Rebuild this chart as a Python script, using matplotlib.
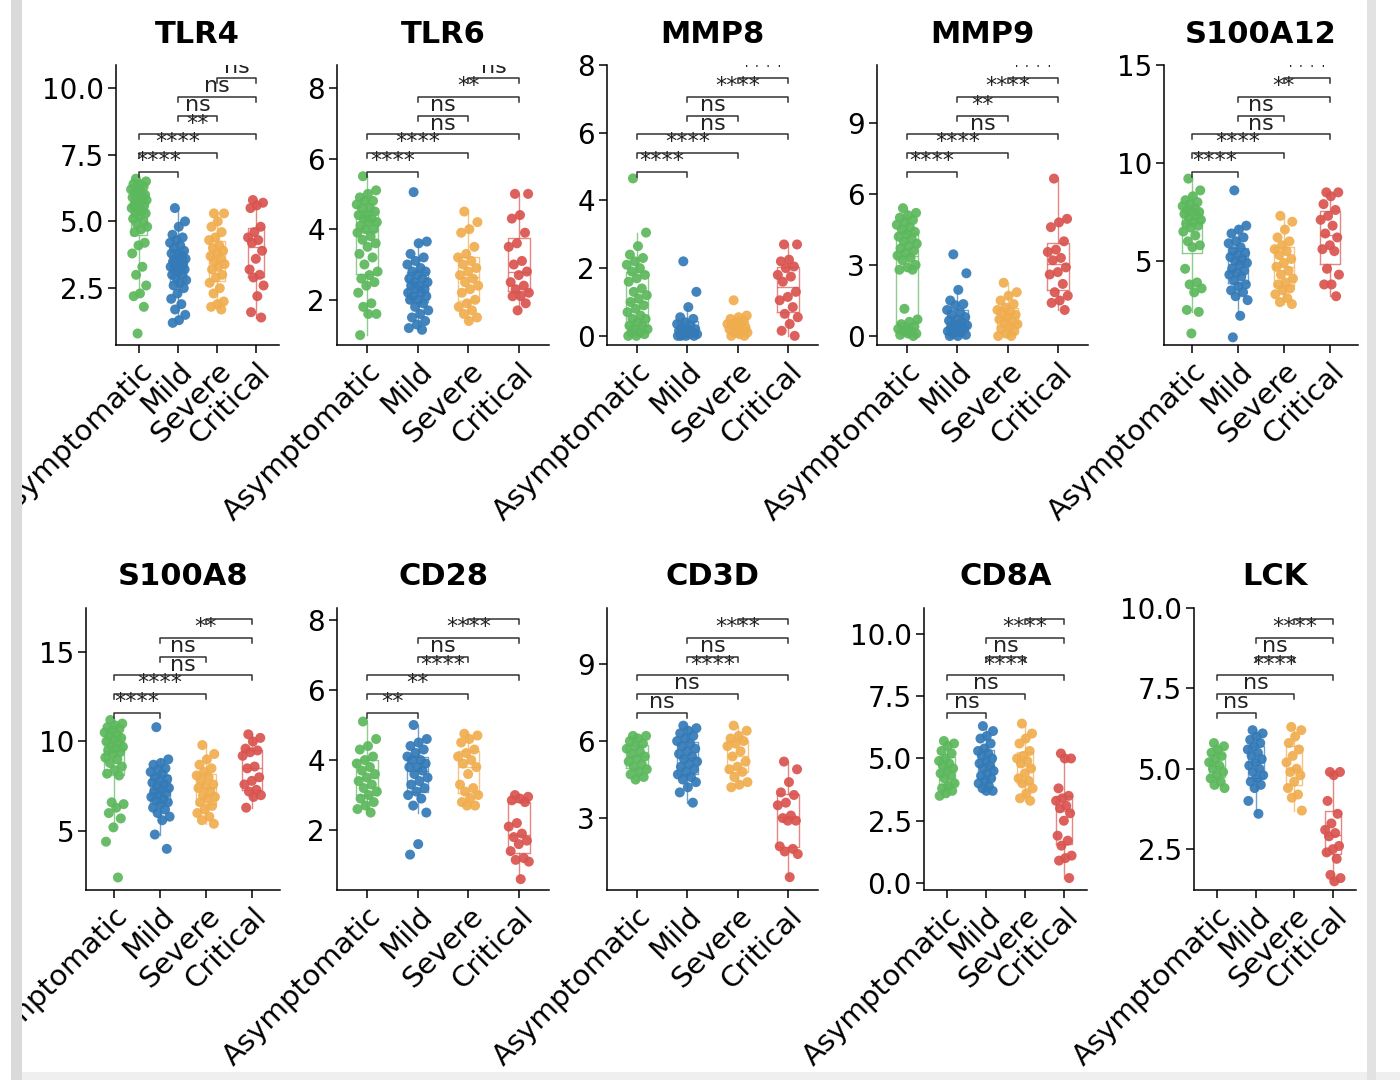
import numpy as np
import matplotlib.pyplot as plt
from matplotlib.patches import Rectangle
from matplotlib.transforms import blended_transform_factory

plt.rcParams['font.family'] = ['DejaVu Sans']

groups = ["Asymptomatic", "Mild", "Severe", "Critical"]
colors = ["#5CB85C", "#337AB7", "#F0AD4E", "#D9534F"]
pairs = [(1, 2), (1, 3), (1, 4), (2, 3), (2, 4), (3, 4)]

# expression values per group: Asymptomatic, Mild, Severe, Critical
tlr4 = [
    [6.6, 6.5, 6.4, 6.4, 6.3, 6.3, 6.2, 6.1, 6.1, 6.0, 6.0, 5.9, 5.9, 5.8, 5.8, 5.7, 5.6, 5.6, 5.5, 5.5,
     5.4, 5.3, 5.3, 5.2, 5.1, 5.0, 4.9, 4.8, 4.7, 4.6, 4.2, 4.1, 3.8, 3.3, 3.0, 2.6, 2.3, 2.2, 1.8, 0.8],
    [5.5, 5.0, 4.8, 4.5, 4.4, 4.3, 4.2, 4.1, 4.0, 3.9, 3.8, 3.8, 3.7, 3.6, 3.6, 3.5, 3.5, 3.4, 3.4, 3.3,
     3.3, 3.2, 3.2, 3.1, 3.0, 3.0, 2.9, 2.8, 2.7, 2.6, 2.5, 2.3, 2.1, 1.9, 1.7, 1.5, 1.3, 1.2],
    [5.3, 5.3, 5.0, 4.8, 4.6, 4.4, 4.3, 4.1, 4.0, 3.9, 3.8, 3.7, 3.6, 3.5, 3.4, 3.3, 3.2, 3.0, 2.9, 2.7,
     2.5, 2.3, 2.0, 1.9, 1.8, 1.7],
    [5.8, 5.7, 5.6, 5.5, 4.8, 4.6, 4.4, 4.3, 4.2, 3.9, 3.6, 3.2, 3.0, 2.9, 2.6, 2.2, 1.6, 1.4],
]
tlr6 = [
    [5.5, 5.1, 5.0, 4.9, 4.8, 4.8, 4.7, 4.6, 4.6, 4.5, 4.4, 4.4, 4.3, 4.3, 4.2, 4.2, 4.1, 4.0, 4.0, 3.9,
     3.8, 3.7, 3.6, 3.5, 3.3, 3.2, 3.0, 2.8, 2.7, 2.6, 2.5, 2.4, 2.2, 1.9, 1.8, 1.6, 1.6, 1.0],
    [5.05, 3.65, 3.6, 3.3, 3.2, 3.1, 3.0, 2.9, 2.8, 2.8, 2.7, 2.6, 2.6, 2.5, 2.5, 2.4, 2.4, 2.3, 2.3, 2.2,
     2.2, 2.1, 2.1, 2.0, 2.0, 1.9, 1.8, 1.7, 1.6, 1.5, 1.4, 1.3, 1.2, 1.15],
    [4.5, 4.2, 4.0, 3.9, 3.5, 3.3, 3.2, 3.1, 3.0, 2.9, 2.8, 2.7, 2.6, 2.5, 2.4, 2.3, 2.2, 2.0, 1.9, 1.8,
     1.7, 1.6, 1.5, 1.4],
    [5.0, 5.0, 4.4, 4.3, 3.9, 3.6, 3.5, 3.1, 3.0, 2.8, 2.7, 2.5, 2.4, 2.3, 2.2, 2.1, 2.1, 1.9, 1.7],
]
mmp8 = [
    [4.65, 3.05, 2.65, 2.4, 2.3, 2.2, 2.1, 2.0, 1.9, 1.8, 1.7, 1.6, 1.4, 1.3, 1.2, 1.1, 1.0, 0.9, 0.8, 0.7,
     0.6, 0.5, 0.5, 0.4, 0.3, 0.3, 0.2, 0.2, 0.1, 0.1, 0.05, 0.0, 0.0],
    [2.2, 1.3, 0.85, 0.55, 0.5, 0.4, 0.35, 0.3, 0.25, 0.2, 0.2, 0.15, 0.1, 0.1, 0.05, 0.05, 0.0, 0.0, 0.0, 0.0],
    [1.05, 0.6, 0.55, 0.5, 0.45, 0.4, 0.35, 0.3, 0.3, 0.25, 0.2, 0.2, 0.15, 0.1, 0.1, 0.05, 0.0, 0.0],
    [2.7, 2.7, 2.25, 2.2, 2.05, 2.0, 1.8, 1.75, 1.6, 1.3, 1.15, 1.05, 0.85, 0.65, 0.55, 0.35, 0.15, 0.0],
]
mmp9 = [
    [5.4, 5.2, 5.1, 5.0, 4.9, 4.8, 4.7, 4.6, 4.5, 4.4, 4.3, 4.2, 4.1, 4.0, 3.9, 3.8, 3.7, 3.6, 3.5, 3.4,
     3.3, 3.2, 3.0, 2.9, 2.8, 2.8, 1.15, 0.7, 0.6, 0.5, 0.4, 0.3, 0.3, 0.2, 0.2, 0.1, 0.1, 0.05, 0.0],
    [3.45, 2.65, 1.95, 1.5, 1.35, 1.3, 1.1, 1.0, 0.9, 0.8, 0.7, 0.65, 0.6, 0.5, 0.45, 0.4, 0.35, 0.3, 0.25,
     0.2, 0.15, 0.1, 0.05, 0.0, 0.0],
    [2.25, 1.85, 1.7, 1.5, 1.35, 1.2, 1.1, 1.0, 0.95, 0.9, 0.8, 0.7, 0.6, 0.55, 0.5, 0.4, 0.3, 0.2, 0.1, 0.0, 0.0],
    [6.65, 4.95, 4.8, 4.6, 4.0, 3.65, 3.55, 3.3, 3.2, 2.9, 2.7, 2.6, 2.2, 1.85, 1.7, 1.5, 1.4, 1.1],
]
s100a12 = [
    [9.2, 8.6, 8.3, 8.1, 8.0, 7.9, 7.8, 7.7, 7.6, 7.5, 7.5, 7.4, 7.3, 7.2, 7.1, 7.0, 6.9, 6.8, 6.7, 6.5,
     6.3, 6.0, 5.8, 5.7, 4.6, 3.9, 3.8, 3.6, 3.4, 2.5, 2.4, 1.3],
    [8.6, 6.8, 6.6, 6.4, 6.2, 6.0, 5.9, 5.7, 5.5, 5.4, 5.3, 5.2, 5.1, 5.0, 4.9, 4.8, 4.6, 4.5, 4.4, 4.3,
     4.2, 4.0, 3.8, 3.7, 3.5, 3.4, 3.2, 3.0, 2.2, 1.1],
    [7.3, 7.0, 6.6, 6.2, 6.0, 5.8, 5.6, 5.5, 5.3, 5.1, 4.9, 4.7, 4.5, 4.3, 4.1, 3.9, 3.8, 3.6, 3.5, 3.3,
     3.1, 2.9, 2.8],
    [8.5, 8.5, 8.3, 7.9, 7.6, 7.3, 7.1, 6.8, 6.4, 6.2, 5.8, 5.6, 5.5, 4.6, 4.3, 3.8, 3.8, 3.2],
]
s100a8 = [
    [11.2, 11.0, 10.9, 10.8, 10.7, 10.6, 10.5, 10.4, 10.3, 10.2, 10.1, 10.0, 9.9, 9.8, 9.7, 9.6, 9.5, 9.4,
     9.3, 9.1, 9.0, 8.8, 8.6, 8.4, 8.2, 8.1, 6.6, 6.5, 6.3, 6.0, 5.7, 5.2, 4.4, 2.4],
    [10.8, 9.0, 8.8, 8.7, 8.5, 8.4, 8.3, 8.2, 8.0, 7.9, 7.8, 7.7, 7.6, 7.5, 7.4, 7.3, 7.2, 7.1, 7.0, 6.9,
     6.8, 6.7, 6.6, 6.5, 6.3, 6.2, 6.0, 5.8, 5.6, 4.8, 4.0],
    [9.8, 9.3, 9.0, 8.7, 8.5, 8.3, 8.1, 8.0, 7.8, 7.6, 7.5, 7.4, 7.2, 7.0, 6.9, 6.8, 6.6, 6.4, 6.2, 6.0,
     5.8, 5.6, 5.4],
    [10.4, 10.2, 10.0, 9.6, 9.5, 9.4, 9.2, 8.6, 8.5, 8.0, 7.8, 7.6, 7.3, 7.2, 7.0, 6.9, 6.3],
]
cd28 = [
    [5.1, 4.6, 4.4, 4.3, 4.1, 4.0, 3.9, 3.8, 3.7, 3.6, 3.5, 3.4, 3.3, 3.2, 3.1, 3.0, 2.9, 2.8, 2.7, 2.6, 2.5],
    [5.0, 4.6, 4.5, 4.4, 4.3, 4.2, 4.1, 4.0, 4.0, 3.9, 3.8, 3.8, 3.7, 3.6, 3.5, 3.4, 3.3, 3.2, 3.1, 3.0,
     2.9, 2.7, 2.5, 1.6, 1.3],
    [4.75, 4.7, 4.6, 4.5, 4.3, 4.2, 4.1, 4.0, 3.9, 3.8, 3.6, 3.3, 3.2, 3.1, 3.0, 2.9, 2.8, 2.7, 2.7],
    [3.0, 2.95, 2.9, 2.85, 2.8, 2.2, 2.1, 1.9, 1.8, 1.7, 1.6, 1.4, 1.2, 1.15, 1.1, 0.6],
]
cd3d = [
    [6.2, 6.2, 6.1, 6.0, 5.9, 5.8, 5.7, 5.6, 5.5, 5.4, 5.3, 5.2, 5.1, 5.0, 4.9, 4.8, 4.7, 4.6, 4.5],
    [6.6, 6.5, 6.4, 6.3, 6.2, 6.1, 6.0, 5.9, 5.8, 5.7, 5.6, 5.5, 5.4, 5.3, 5.2, 5.1, 5.0, 4.9, 4.8, 4.7,
     4.6, 4.5, 4.4, 4.2, 4.0, 3.6],
    [6.6, 6.4, 6.2, 6.1, 6.0, 5.9, 5.8, 5.6, 5.4, 5.2, 5.0, 4.9, 4.8, 4.6, 4.4, 4.3, 4.2],
    [5.2, 4.9, 4.4, 4.0, 3.9, 3.6, 3.5, 3.1, 3.0, 2.9, 2.9, 1.9, 1.8, 1.7, 1.6, 0.7],
]
cd8a = [
    [5.7, 5.6, 5.5, 5.3, 5.2, 5.0, 4.9, 4.8, 4.7, 4.6, 4.5, 4.4, 4.3, 4.2, 4.0, 3.9, 3.8, 3.7, 3.6, 3.5],
    [6.3, 6.1, 5.9, 5.8, 5.6, 5.4, 5.3, 5.2, 5.1, 5.0, 4.9, 4.8, 4.7, 4.6, 4.5, 4.4, 4.3, 4.2, 4.1, 4.0,
     3.9, 3.8, 3.7, 3.7],
    [6.4, 6.0, 5.8, 5.6, 5.3, 5.1, 5.0, 4.9, 4.8, 4.6, 4.4, 4.2, 4.1, 4.0, 3.8, 3.6, 3.4, 3.3],
    [5.2, 5.0, 5.0, 3.8, 3.5, 3.4, 3.3, 3.1, 3.0, 2.8, 2.5, 1.9, 1.7, 1.5, 1.1, 1.0, 0.9, 0.2],
]
lck = [
    [5.8, 5.7, 5.6, 5.5, 5.4, 5.3, 5.2, 5.1, 5.0, 4.9, 4.8, 4.7, 4.6, 4.5, 4.4],
    [6.2, 6.1, 6.0, 5.9, 5.8, 5.7, 5.6, 5.5, 5.4, 5.3, 5.2, 5.1, 5.0, 4.9, 4.8, 4.7, 4.6, 4.5, 4.4, 4.0, 3.6],
    [6.3, 6.2, 6.0, 5.8, 5.6, 5.4, 5.2, 5.0, 4.9, 4.8, 4.6, 4.4, 4.2, 4.1, 3.7],
    [4.9, 4.9, 4.8, 4.0, 3.6, 3.3, 3.1, 3.0, 2.9, 2.6, 2.5, 2.4, 2.2, 1.7, 1.6, 1.5],
]

# significance labels for pairs 1-2, 1-3, 1-4, 2-3, 2-4, 3-4
sig_tlr4 = ["****", "****", "**", "ns", "ns", "ns"]
sig_tlr6 = ["****", "****", "ns", "ns", "**", "ns"]
sig_mmp8 = ["****", "****", "ns", "ns", "****", "****"]
sig_mmp9 = ["****", "****", "ns", "**", "****", "****"]
sig_s100a12 = ["****", "****", "ns", "ns", "**", "****"]
sig_s100a8 = ["****", "****", "ns", "ns", "**", "**"]
sig_cd28 = ["**", "**", "****", "ns", "****", "****"]
sig_cd3d = ["ns", "ns", "****", "ns", "****", "****"]
sig_cd8a = ["ns", "ns", "****", "ns", "****", "****"]
sig_lck = ["ns", "ns", "****", "ns", "****", "****"]

W, H = 1400, 1080
fig = plt.figure(figsize=(W / 100, H / 100), dpi=100)

# row layout in pixels: (top, bottom, title baseline, bracket base fraction)
rows = [(65, 345, 43, 0.618), (608, 890, 585, 0.627)]

# gene, data, labels, first tick px, last tick px, row, ylim, yticks, label format
panels = [
    ("TLR4", tlr4, sig_tlr4, 139, 256, 0, (0.37, 10.86), [2.5, 5, 7.5, 10], "{:.1f}"),
    ("TLR6", tlr6, sig_tlr6, 367, 519, 0, (0.72, 8.65), [2, 4, 6, 8], "{:.0f}"),
    ("MMP8", mmp8, sig_mmp8, 637, 788, 0, (-0.27, 8.0), [0, 2, 4, 6, 8], "{:.0f}"),
    ("MMP9", mmp9, sig_mmp9, 907, 1058, 0, (-0.38, 11.45), [0, 3, 6, 9], "{:.0f}"),
    ("S100A12", s100a12, sig_s100a12, 1192, 1330, 0, (0.71, 15.0), [5, 10, 15], "{:.0f}"),
    ("S100A8", s100a8, sig_s100a8, 114, 252, 1, (1.7, 17.46), [5, 10, 15], "{:.0f}"),
    ("CD28", cd28, sig_cd28, 367, 519, 1, (0.29, 8.34), [2, 4, 6, 8], "{:.0f}"),
    ("CD3D", cd3d, sig_cd3d, 637, 788, 1, (0.2, 11.18), [3, 6, 9], "{:.0f}"),
    ("CD8A", cd8a, sig_cd8a, 947, 1064, 1, (-0.28, 11.04), [0, 2.5, 5, 7.5, 10], "{:.1f}"),
    ("LCK", lck, sig_lck, 1217, 1333, 1, (1.23, 10.0), [2.5, 5, 7.5, 10], "{:.1f}"),
]

for gene, data, sig, t1, t4, r, ylim, yticks, fmt in panels:
    top, bottom, title_y, base = rows[r]
    sp = (t4 - t1) / 3
    left = t1 - 0.6 * sp
    right = t4 + 0.6 * sp
    ax = fig.add_axes([left / W, 1 - bottom / H, (right - left) / W, (bottom - top) / H])

    for i, vals in enumerate(data):
        x0 = i + 1
        vals = np.asarray(vals, dtype=float)
        k = np.arange(len(vals))
        jit = ((k * 0.618034 + 0.31) % 1.0 - 0.5) * 0.42
        ax.boxplot([vals], positions=[x0], widths=0.42, showfliers=False, showcaps=False,
                   manage_ticks=False,
                   boxprops=dict(color=colors[i], lw=1.0, alpha=0.7),
                   whiskerprops=dict(color=colors[i], lw=1.0, alpha=0.7),
                   medianprops=dict(color=colors[i], lw=1.0, alpha=0.7))
        ax.scatter(x0 + jit, vals, s=52, color=colors[i], edgecolors='none',
                   alpha=0.92, zorder=3)

    trans = blended_transform_factory(ax.transData, ax.transAxes)
    for j, ((a, b), lab) in enumerate(zip(pairs, sig)):
        y = base + 0.067 * j
        ax.plot([a, a, b, b], [y - 0.018, y, y, y - 0.018], transform=trans,
                color='#333333', lw=1.1, zorder=4)
        ax.text((a + b) / 2, y + 0.003, lab, transform=trans, ha='center', va='bottom',
                fontsize=16, color='#222222', zorder=5, clip_on=True)

    ax.set_xlim(0.4, 4.6)
    ax.set_ylim(*ylim)
    ax.set_yticks(yticks)
    ax.set_yticklabels([fmt.format(v) for v in yticks], fontsize=20)
    ax.set_xticks(range(1, 5))
    ax.set_xticklabels(groups, fontsize=21, rotation=45, ha='right', va='top',
                       rotation_mode='anchor')
    for s in ('top', 'right'):
        ax.spines[s].set_visible(False)
    for s in ('left', 'bottom'):
        ax.spines[s].set_linewidth(1.1)
    ax.tick_params(length=5.5, width=1.1, pad=3, color='black')

    fig.text((left + right) / 2 / W, 1 - title_y / H, gene, ha='center', va='baseline',
             fontsize=22, fontweight='bold')

# screenshot frame: left/right grey borders and faint bottom band
fig.add_artist(Rectangle((0, 0), 11 / W, 1, transform=fig.transFigure,
                         facecolor='white', edgecolor='none', zorder=20))
fig.add_artist(Rectangle((11 / W, 0), 11 / W, 1, transform=fig.transFigure,
                         facecolor='#dadada', edgecolor='none', zorder=21))
fig.add_artist(Rectangle((1367 / W, 0), 9 / W, 1, transform=fig.transFigure,
                         facecolor='#e2e2e2', edgecolor='none', zorder=21))
fig.add_artist(Rectangle((0, 0), 1, 8 / H, transform=fig.transFigure,
                         facecolor='#efefef', edgecolor='none', zorder=19))

fig.savefig('out.png', dpi=100)
